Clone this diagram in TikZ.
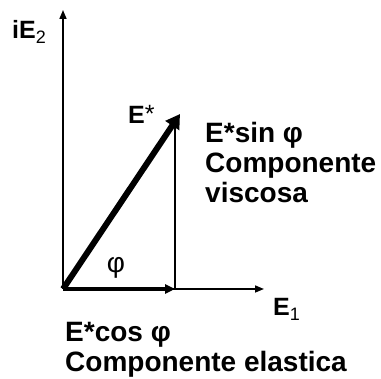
\documentclass[tikz,border=0pt]{standalone}
\usepackage{fontspec}
\setmainfont{Liberation Sans}
\usetikzlibrary{arrows.meta}
\tikzset{
  axis/.style={line width=1.6pt,-{Triangle[length=9pt,width=7pt]}},
  lbl/.style={font=\fontsize{25}{28}\selectfont\bfseries, inner sep=0pt},
  txt/.style={font=\fontsize{28}{30}\selectfont\bfseries, inner sep=0pt, align=left},
}
\newcommand{\lowidx}[1]{\raisebox{-0.35ex}{\fontsize{18}{18}\selectfont\mdseries #1}}
\newcommand{\starup}{\raisebox{0.1ex}{\mdseries *}}

\begin{document}
\begin{tikzpicture}[x=1pt,y=-1pt]
  \useasboundingbox (0,0) rectangle (381,379);
  % origin and ends
  \coordinate (O) at (63,289);
  \coordinate (Y) at (63,10);
  \coordinate (X) at (264,289);
  \coordinate (P) at (180,114);
  \coordinate (Pc) at (175,289);
  \coordinate (Ps) at (175,122);
  % axes
  \draw[axis] (O) -- (Y);
  \draw[axis] (O) -- (X);
  % components
  \draw[line width=1.6pt] (Pc) -- (Ps);
  \draw[line width=3.5pt,-{Triangle[length=10pt,width=9pt]}] (O) -- (Pc);
  \draw[line width=6pt,-{Triangle[length=14pt,width=16pt]}] (O) -- (P);
  % labels
  \node[lbl, anchor=base west] (lE2) at (12,39) {iE\lowidx{2}};
  \node[lbl, anchor=base west] (lE) at (128,124) {E\starup};
  \node[lbl, anchor=base west] (lE1) at (273,316) {E\lowidx{1}};
  \node[lbl, font=\fontsize{28}{30}\selectfont, anchor=center] (lphi) at (116,268) {φ};
  % components text (base = last line)
  \node[txt, anchor=base west] (visc) at (205,203) {E*sin φ\\Componente\\viscosa};
  \node[txt, anchor=base west] (elas) at (65,372) {E*cos φ\\Componente elastica};
\end{tikzpicture}
\end{document}
